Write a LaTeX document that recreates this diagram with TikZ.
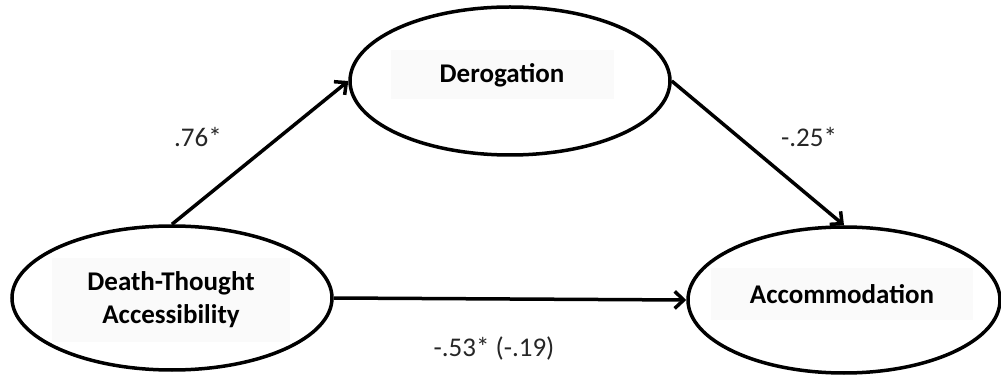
\documentclass[tikz,border=0pt]{standalone}
\usepackage{fontspec}
\setmainfont{Carlito}
\usetikzlibrary{arrows.meta,shapes.geometric}

\begin{document}
\begin{tikzpicture}[x=1pt, y=1pt, line width=3.5pt,
    >={Straight Barb[length=9pt,width=17pt]},
    var/.style={ellipse, draw, inner sep=0pt},
    txtbox/.style={fill=black!2, inner sep=0pt, align=center,
        font=\fontsize{27}{33}\selectfont\bfseries},
    coef/.style={font=\fontsize{27}{33}\selectfont, text=black!85}]
    \useasboundingbox (0,0) rectangle (1001,375);

    % Variables
    \node [var, minimum width=320, minimum height=144] (dta) at (172,77)  {};
    \node [var, minimum width=320, minimum height=148] (der) at (510,294) {};
    \node [var, minimum width=312, minimum height=146] (acc) at (844,75)  {};

    % Text boxes
    \node [txtbox, minimum width=238, minimum height=84] (dtatxt) at (171,75)
        {Death-Thought\\Accessibility};
    \node [txtbox, minimum width=223, minimum height=49] (dertxt) at (502,300)
        {Derogation};
    \node [txtbox, minimum width=262, minimum height=52] (acctxt) at (842,81)
        {Accommodation};

    % Paths
    \path [->] (dta.north) edge (der.west);
    \path [->] (der.east)  edge (acc.north);
    \path [->] (dta.east)  edge (acc.west);

    % Coefficients
    \node [coef] (a)  at (198,238) {.76*};
    \node [coef] (b)  at (809,238) {-.25*};
    \node [coef] (c)  at (494,27)  {-.53* (-.19)};
\end{tikzpicture}
\end{document}
